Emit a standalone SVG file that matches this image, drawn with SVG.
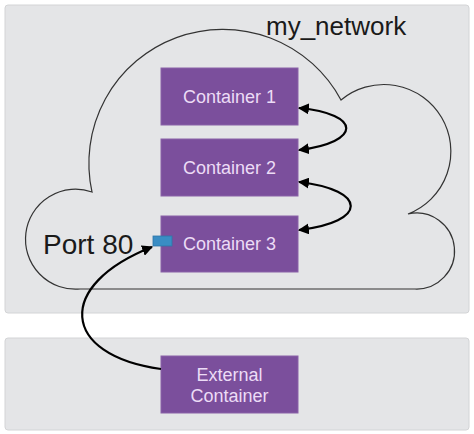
<svg xmlns="http://www.w3.org/2000/svg" width="474" height="434" viewBox="0 0 474 434">
  <defs>
    <marker id="ah" viewBox="0 0 10 10" refX="9" refY="5" markerWidth="5" markerHeight="5" orient="auto-start-reverse" markerUnits="strokeWidth">
      <path d="M0 0 L10 5 L0 10 Z" fill="#000"/>
    </marker>
    <style>
      .panel{fill:#e4e5e7;stroke:#d3d4d6;stroke-width:1}
      .box{fill:#7b4f9c;stroke:#8a63a8;stroke-width:1}
      .lbl{font-family:"Liberation Sans",Arial,sans-serif;font-size:18px;fill:#ecdcf6;text-anchor:middle}
      .big{font-family:"Liberation Sans",Arial,sans-serif;fill:#1a1a1a}
      .conn{fill:none;stroke:#000;stroke-width:2.2}
    </style>
  </defs>
  <rect width="474" height="434" fill="#ffffff"/>
  <g id="network-panel">
    <rect class="panel" x="5" y="5" width="464" height="308" rx="3"/>
  </g>
  <g id="external-panel">
    <rect class="panel" x="5" y="338" width="464" height="92" rx="3"/>
  </g>
  <g id="cloud">
    <path d="M 92 192 A 134 134 0 0 1 341 100 A 67 67 0 1 1 408 214 A 38 38 0 1 1 415 289 L 80 289 A 50 50 0 1 1 92 192 Z" fill="none" stroke="#333" stroke-width="1.2"/>
    <text class="big" x="266" y="35" font-size="26">my_network</text>
  </g>
  <g id="container1">
    <rect class="box" x="161" y="68" width="137" height="57"/>
    <text class="lbl" x="229.5" y="103">Container 1</text>
  </g>
  <g id="container2">
    <rect class="box" x="161" y="139" width="137" height="57"/>
    <text class="lbl" x="229.5" y="174">Container 2</text>
  </g>
  <g id="container3">
    <rect class="box" x="161" y="216" width="137" height="56"/>
    <text class="lbl" x="229.5" y="250">Container 3</text>
  </g>
  <g id="port80">
    <rect x="153" y="236" width="19" height="10" fill="#3a8dc4" stroke="#2f77a8" stroke-width="0.8"/>
    <text class="big" x="43" y="254" font-size="28">Port 80</text>
  </g>
  <g id="external-container">
    <rect class="box" x="161" y="356" width="137" height="57"/>
    <text class="lbl" x="229.5" y="381">External</text>
    <text class="lbl" x="229.5" y="402">Container</text>
  </g>
  <g id="connectors">
    <path class="conn" d="M 299 108 C 362 114, 362 142, 299 150" marker-start="url(#ah)" marker-end="url(#ah)"/>
    <path class="conn" d="M 299 182 C 368 190, 368 222, 299 230" marker-start="url(#ah)" marker-end="url(#ah)"/>
    <path class="conn" d="M 161 369 C 60 355, 55 285, 152 247" marker-end="url(#ah)"/>
  </g>
</svg>
